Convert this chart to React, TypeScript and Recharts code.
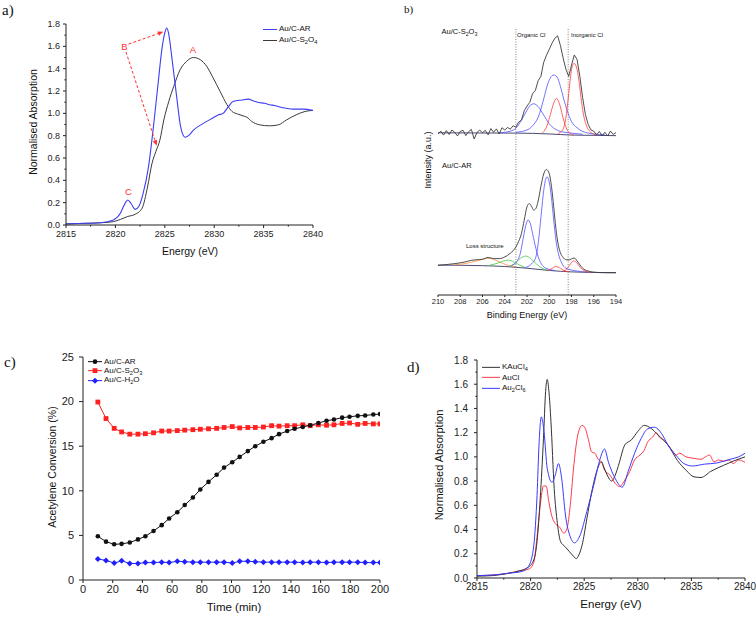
import React from "react";
import { LineChart, Line, XAxis, YAxis, ReferenceLine, Legend } from "recharts";

type Pt = [number, number];

// ---------- a) XANES, Au/C samples  [energy eV, normalised absorption]
const aAuCAR: Pt[] = [
  [2815, 0.01], [2817, 0.015], [2818.5, 0.02], [2819.8, 0.045], [2820.5, 0.105], [2820.9, 0.18],
  [2821.26, 0.224], [2821.6, 0.19], [2822.0, 0.14], [2822.4, 0.17], [2822.8, 0.28], [2823.35, 0.52],
  [2823.85, 0.88], [2824.36, 1.3], [2824.7, 1.57], [2825.0, 1.72], [2825.2, 1.764], [2825.4, 1.71],
  [2825.7, 1.51], [2826.2, 1.15], [2826.6, 0.88], [2827.05, 0.786], [2827.4, 0.8], [2827.9, 0.85],
  [2828.9, 0.91], [2829.9, 0.96], [2830.4, 0.985], [2830.9, 1.0], [2831.4, 1.055], [2831.9, 1.106],
  [2832.8, 1.12], [2833.45, 1.127], [2834.0, 1.11], [2834.5, 1.097], [2835.1, 1.09], [2835.6, 1.077],
  [2836.1, 1.07], [2836.65, 1.056], [2837.3, 1.045], [2838.0, 1.038], [2839.0, 1.038], [2840, 1.026],
];
const aAuCS2O4: Pt[] = [
  [2815, 0.01], [2817, 0.015], [2818.5, 0.02], [2819.8, 0.03], [2820.5, 0.05], [2821.2, 0.075],
  [2822.0, 0.096], [2822.7, 0.15], [2823.25, 0.34], [2823.7, 0.55], [2824.1, 0.66], [2824.5, 0.76],
  [2824.9, 0.94], [2825.4, 1.106], [2825.9, 1.24], [2826.55, 1.39], [2827.2, 1.465], [2827.9, 1.5],
  [2828.6, 1.48], [2829.25, 1.42], [2829.9, 1.316], [2830.6, 1.196], [2831.3, 1.077], [2831.8, 1.017],
  [2832.4, 0.993], [2833.0, 0.975], [2833.3, 0.966], [2833.8, 0.927], [2834.6, 0.897], [2835.6, 0.888],
  [2836.5, 0.897], [2837.3, 0.94], [2838.3, 0.987], [2839.2, 1.017], [2840, 1.026],
];
const aArrows: { from: Pt; to: Pt }[] = [
  { from: [2821.33, 1.62], to: [2824.85, 1.73] },
  { from: [2821.07, 1.55], to: [2824.18, 0.71] },
];
const aXTicks = [2815, 2817.5, 2820, 2822.5, 2825, 2827.5, 2830, 2832.5, 2835, 2837.5, 2840];
const aXMajor = [2815, 2820, 2825, 2830, 2835, 2840];
const aYTicks = [0, 0.1, 0.2, 0.3, 0.4, 0.5, 0.6, 0.7, 0.8, 0.9, 1.0, 1.1, 1.2, 1.3, 1.4, 1.5, 1.6, 1.7, 1.8];
const aYMajor = [0, 0.2, 0.4, 0.6, 0.8, 1.0, 1.2, 1.4, 1.6, 1.8];

// ---------- b) Cl 2p XPS  [binding energy eV, intensity a.u.]
const bTopEnvelope: Pt[] = [
  [210, 59.6], [209.75, 60.6], [209.5, 59.2], [209.25, 60.8], [209, 59.4], [208.75, 61.0], [208.5, 60.2],
  [208.25, 58.9], [208, 60.5], [207.75, 60.9], [207.5, 59.0], [207.25, 60.4], [207, 61.2], [206.75, 57.8],
  [206.5, 60.1], [206.25, 61.0], [206, 60.0], [205.75, 60.9], [205.5, 59.3], [205.25, 61.5], [205, 60.2],
  [204.75, 61.4], [204.5, 59.6], [204.25, 61.8], [204, 61.0], [203.75, 61.9], [203.5, 61.3], [203.25, 62.5],
  [203, 62.0], [202.75, 63.8], [202.5, 64.5], [202.25, 67.8], [202, 69.5], [201.75, 70.8], [201.5, 73.9],
  [201.25, 75.0], [201, 78.5], [200.75, 80.0], [200.5, 85.0], [200.25, 87.5], [200, 89.6], [199.75, 91.8],
  [199.5, 93.5], [199.25, 94.4], [199, 91.0], [198.75, 86.5], [198.5, 82.5], [198.25, 80.0], [198, 84.0],
  [197.75, 87.6], [197.5, 86.0], [197.25, 80.0], [197, 72.5], [196.75, 66.5], [196.5, 63.0], [196.25, 61.0],
  [196, 60.6], [195.75, 59.3], [195.5, 60.5], [195.25, 59.0], [195, 60.2], [194.75, 58.9], [194.5, 60.6],
  [194.25, 59.4], [194, 60.1],
];
const bTopBackground: Pt[] = [[210, 60.0], [203, 59.9], [200, 59.6], [198, 59.2], [196, 59.1], [194, 59.0]];
const bTopOrganic1: Pt[] = [
  [204.5, 60.0], [203.5, 60.6], [203, 61.6], [202.5, 64.5], [202, 68.0], [201.7, 69.8], [201.4, 70.3],
  [201, 69.3], [200.5, 66.3], [200, 63.2], [199.5, 61.4], [199, 60.5], [198, 59.9], [197, 59.5],
];
const bTopOrganic2: Pt[] = [
  [203, 60.2], [202, 61.0], [201.5, 62.5], [201, 65.5], [200.5, 72.0], [200.2, 76.5], [199.9, 79.5],
  [199.6, 80.5], [199.3, 79.8], [199, 76.5], [198.7, 72.0], [198.4, 68.0], [198, 64.0], [197.5, 61.8],
  [197, 60.5], [196, 59.6], [195, 59.3],
];
const bTopInorg1: Pt[] = [
  [200.6, 60.0], [200.2, 62.5], [199.9, 66.5], [199.6, 70.5], [199.35, 72.2], [199.1, 70.5], [198.8, 66.0],
  [198.5, 62.0], [198.2, 60.0], [197.8, 59.3],
];
const bTopInorg2: Pt[] = [
  [199.2, 59.8], [198.8, 61.0], [198.5, 65.5], [198.3, 72.0], [198.1, 79.5], [197.9, 84.0], [197.75, 84.6],
  [197.5, 82.5], [197.3, 77.5], [197.1, 71.0], [196.9, 66.0], [196.6, 62.0], [196.2, 60.0], [195.8, 59.3],
];
const bBotEnvelope: Pt[] = [
  [210, 13.0], [209, 13.4], [208, 13.9], [207.5, 14.3], [207, 14.8], [206.5, 15.0], [206, 15.2], [205.5, 15.8],
  [205, 15.4], [204.5, 15.4], [204, 16.0], [203.5, 17.3], [203, 19.5], [202.75, 21.5], [202.5, 24.3],
  [202.25, 29.0], [202, 33.8], [201.8, 34.9], [201.6, 34.0], [201.4, 32.6], [201.2, 33.2], [201, 35.8],
  [200.75, 41.0], [200.5, 45.4], [200.25, 47.0], [200, 45.5], [199.8, 41.0], [199.6, 33.8], [199.4, 26.0],
  [199.2, 20.5], [199, 17.5], [198.75, 15.8], [198.5, 15.0], [198.25, 14.9], [198, 15.3], [197.75, 15.6],
  [197.5, 14.6], [197.25, 13.2], [197, 12.0], [196.5, 11.0], [196, 10.6], [195, 10.4], [194, 10.4],
];
const bBotBackground: Pt[] = [[210, 13.1], [206, 12.9], [204, 12.6], [202, 12.0], [200, 11.2], [198, 10.7], [196, 10.5], [194, 10.4]];
const bBotOrganic1: Pt[] = [
  [203.4, 13.0], [203, 14.0], [202.6, 17.3], [202.3, 23.5], [202.05, 28.0], [201.9, 29.1], [201.7, 27.8],
  [201.5, 24.3], [201.2, 19.0], [201, 16.1], [200.7, 13.5], [200.3, 12.0], [199.5, 11.2],
];
const bBotOrganic2: Pt[] = [
  [202.2, 12.2], [201.6, 13.5], [201.2, 16.0], [200.9, 24.0], [200.7, 32.0], [200.5, 39.5], [200.3, 43.8],
  [200.2, 44.4], [200, 42.5], [199.8, 37.0], [199.6, 29.1], [199.4, 22.0], [199.2, 17.5], [198.9, 14.0],
  [198.5, 12.0], [197.5, 11.0], [196.5, 10.6],
];
const bBotGreen1: Pt[] = [[203.6, 12.6], [203.1, 13.6], [202.6, 15.5], [202.1, 16.3], [201.6, 15.2], [201.1, 13.3], [200.6, 11.9], [200, 11.2]];
const bBotGreen2: Pt[] = [[205.5, 12.9], [204.8, 13.6], [204.2, 14.4], [203.7, 14.9], [203.2, 14.3], [202.7, 13.2], [202.2, 12.3]];
const bBotLoss: Pt[] = [[208.5, 13.2], [207.5, 13.7], [206.5, 14.6], [205.8, 15.3], [205.35, 15.5], [204.9, 15.0], [204.3, 13.9], [203.7, 13.0], [203, 12.5]];
const bBotInorg1: Pt[] = [[200.2, 11.0], [199.8, 11.8], [199.4, 12.6], [199, 12.0], [198.6, 11.0], [198.2, 10.7]];
const bBotInorg2: Pt[] = [[198.8, 10.8], [198.4, 11.8], [198.1, 13.5], [197.8, 14.6], [197.5, 13.8], [197.2, 12.2], [196.8, 11.0], [196.3, 10.5]];
const bDivides = [203.0, 198.3];
const bXTicks = [194, 196, 198, 200, 202, 204, 206, 208, 210];

// ---------- c) acetylene conversion vs time
const cTime = [10, 15.5, 21, 26, 31.5, 37, 42, 47.5, 53, 58, 63.5, 68.5, 74, 79, 84.5, 90, 95, 100.5, 105.5, 111,
  116, 121.5, 127, 132, 137.5, 142.5, 148, 153, 158.5, 164, 169, 174.5, 179.5, 185, 190, 195.5, 200];
const cAuCAR = [4.9, 4.3, 4.0, 4.05, 4.2, 4.55, 4.9, 5.5, 6.15, 6.9, 7.6, 8.4, 9.25, 10.15, 11.0, 11.8, 12.6, 13.2,
  13.8, 14.45, 15.0, 15.5, 15.9, 16.35, 16.7, 16.95, 17.15, 17.35, 17.6, 17.85, 18.0, 18.2, 18.3, 18.4, 18.45, 18.55, 18.6];
const cAuCS2O3 = [19.95, 18.1, 17.0, 16.6, 16.35, 16.35, 16.4, 16.5, 16.7, 16.7, 16.75, 16.8, 16.85, 16.9, 16.95, 17.0,
  17.1, 17.2, 17.05, 17.1, 17.1, 17.15, 17.3, 17.25, 17.3, 17.3, 17.4, 17.3, 17.4, 17.35, 17.4, 17.55, 17.6, 17.45, 17.55, 17.5, 17.5];
const cAuCH2O = [2.35, 2.2, 1.9, 2.15, 1.85, 1.85, 1.95, 1.95, 2.0, 1.95, 2.1, 2.05, 2.0, 2.0, 2.0, 2.0, 2.0, 1.9, 2.1,
  2.1, 2.05, 2.0, 2.0, 2.0, 2.0, 2.0, 1.95, 2.0, 2.0, 1.95, 2.0, 2.0, 2.0, 2.0, 1.95, 1.95, 1.95];
const cXTicks = [0, 20, 40, 60, 80, 100, 120, 140, 160, 180, 200];
const cYTicks = [0, 5, 10, 15, 20, 25];

// ---------- d) XANES references
const dKAuCl4: Pt[] = [
  [2815, 0.015], [2816.5, 0.02], [2818, 0.04], [2819, 0.06], [2819.6, 0.08], [2820.2, 0.13], [2820.6, 0.3],
  [2820.9, 0.66], [2821.2, 1.15], [2821.4, 1.54], [2821.55, 1.64], [2821.7, 1.55], [2821.9, 1.29], [2822.2, 0.74],
  [2822.5, 0.45], [2822.8, 0.3], [2823.2, 0.26], [2823.6, 0.22], [2824.0, 0.18], [2824.25, 0.16], [2824.5, 0.19],
  [2824.8, 0.27], [2825.25, 0.49], [2825.7, 0.71], [2826.2, 0.89], [2826.6, 0.96], [2826.9, 0.9], [2827.2, 0.84],
  [2827.55, 0.8], [2827.9, 0.85], [2828.2, 0.93], [2828.8, 1.1], [2829.4, 1.14], [2830.0, 1.21], [2830.6, 1.26],
  [2831.25, 1.235], [2831.9, 1.18], [2832.8, 1.1], [2833.7, 0.97], [2834.5, 0.89], [2835.25, 0.835], [2835.9, 0.83],
  [2836.8, 0.88], [2838.0, 0.93], [2838.9, 0.965], [2840, 1.0],
];
const dAuCl: Pt[] = [
  [2815, 0.02], [2816.5, 0.025], [2818, 0.04], [2819, 0.06], [2819.86, 0.075], [2820.3, 0.13], [2820.6, 0.34],
  [2820.9, 0.6], [2821.2, 0.76], [2821.45, 0.76], [2821.7, 0.63], [2822.0, 0.505], [2822.3, 0.45], [2822.7, 0.42],
  [2823.1, 0.37], [2823.4, 0.41], [2823.7, 0.6], [2824.0, 0.9], [2824.4, 1.18], [2824.8, 1.26], [2825.1, 1.235],
  [2825.4, 1.14], [2825.7, 1.04], [2826.0, 1.03], [2826.3, 0.98], [2826.6, 0.96], [2826.9, 0.89], [2827.4, 0.85],
  [2827.9, 0.78], [2828.3, 0.755], [2828.8, 0.81], [2829.25, 0.88], [2829.7, 0.975], [2830.2, 1.015], [2830.6, 1.055],
  [2830.9, 1.12], [2831.4, 1.165], [2831.7, 1.2], [2832.0, 1.165], [2832.5, 1.13], [2833.1, 1.065], [2833.55, 1.015],
  [2833.9, 1.03], [2834.5, 1.0], [2835.1, 0.99], [2835.9, 0.98], [2836.3, 1.0], [2836.7, 1.015], [2837.1, 0.96],
  [2837.55, 0.975], [2838.0, 0.965], [2838.5, 0.975], [2838.9, 0.945], [2839.4, 0.975], [2840, 0.955],
];
const dAu2Cl6: Pt[] = [
  [2815, 0.02], [2816.5, 0.025], [2818, 0.04], [2819.25, 0.055], [2819.86, 0.105], [2820.3, 0.27], [2820.6, 0.68],
  [2820.8, 1.13], [2821.0, 1.33], [2821.25, 1.21], [2821.55, 0.905], [2822.0, 0.79], [2822.3, 0.85], [2822.6, 0.945],
  [2822.9, 0.82], [2823.25, 0.52], [2823.7, 0.34], [2824.1, 0.29], [2824.6, 0.35], [2825.25, 0.55], [2825.9, 0.77],
  [2826.5, 0.99], [2826.9, 1.065], [2827.25, 0.96], [2827.9, 0.82], [2828.55, 0.75], [2829.1, 0.88], [2829.7, 1.03],
  [2830.3, 1.15], [2830.9, 1.23], [2831.55, 1.245], [2832.2, 1.195], [2832.8, 1.1], [2833.55, 1.015], [2834.3, 0.945],
  [2835.1, 0.925], [2836.2, 0.94], [2837.4, 0.95], [2838.6, 0.98], [2839.4, 1.0], [2840, 1.03],
];

const SANS = "'Liberation Sans', Arial, sans-serif";
const SERIF = "'Liberation Serif', 'Times New Roman', serif";
const AXIS = "#222";
const RED = "#ff3030";

const pts = (arr: Pt[]) => arr.map(([x, y]) => ({ x, y }));

// Origin-style ticks: labels on majors, shorter marks on minors
type TickOpts = { side: "bottom" | "left"; size: number; margin: number; majors: number[]; fmt: (v: number) => string; fontSize: number };
function makeTick(o: TickOpts) {
  return (p: any) => {
    const v = p.payload.value;
    const major = o.majors.some((m) => Math.abs(m - v) < 1e-6);
    const len = major ? o.size : o.size * 0.55;
    if (o.side === "bottom") {
      const y0 = p.y - o.size - o.margin;
      return (
        <g>
          <line x1={p.x} x2={p.x} y1={y0} y2={y0 + len} stroke={AXIS} strokeWidth={1} />
          {major && (
            <text x={p.x} y={p.y} dy="0.72em" textAnchor="middle" fontSize={o.fontSize} fontFamily={SANS} fill={AXIS}>
              {o.fmt(v)}
            </text>
          )}
        </g>
      );
    }
    const x0 = p.x + o.size + o.margin;
    return (
      <g>
        <line x1={x0} x2={x0 - len} y1={p.y} y2={p.y} stroke={AXIS} strokeWidth={1} />
        {major && (
          <text x={p.x} y={p.y} dy="0.35em" textAnchor="end" fontSize={o.fontSize} fontFamily={SANS} fill={AXIS}>
            {o.fmt(v)}
          </text>
        )}
      </g>
    );
  };
}

const arrowShape = (p: any) => {
  const { x1, y1, x2, y2 } = p;
  const ang = Math.atan2(y2 - y1, x2 - x1);
  const L = 5.5;
  const W = 2.3;
  const bx = x2 - L * Math.cos(ang);
  const by = y2 - L * Math.sin(ang);
  const s = Math.sin(ang);
  const c = Math.cos(ang);
  return (
    <g>
      <line x1={x1} y1={y1} x2={bx} y2={by} stroke={RED} strokeWidth={1} strokeDasharray="3 2" />
      <polygon points={`${x2},${y2} ${bx - W * s},${by + W * c} ${bx + W * s},${by - W * c}`} fill={RED} />
    </g>
  );
};

const Sub = ({ children }: { children: React.ReactNode }) => (
  <span style={{ fontSize: "0.7em", verticalAlign: "-0.3em", lineHeight: 0 }}>{children}</span>
);

function Txt(props: { x: number; y: number; size: number; center?: boolean; rotate?: boolean; color?: string; font?: string; children: React.ReactNode }) {
  const { x, y, size, center, rotate, color = "#111", font = SANS, children } = props;
  return (
    <div style={{ position: "absolute", left: x, top: y, width: 0, height: 0 }}>
      <div
        style={{
          position: "absolute",
          left: 0,
          top: 0,
          transform: `translate(${center ? "-50%" : "0"}, -50%)${rotate ? " rotate(-90deg)" : ""}`,
          whiteSpace: "nowrap",
          fontSize: size,
          fontFamily: font,
          color,
          lineHeight: 1,
        }}
      >
        {children}
      </div>
    </div>
  );
}

type LegendRow = { label: React.ReactNode; color: string; marker?: "circle" | "square" | "diamond" };
function legendContent(rows: LegendRow[], rowH: number, lineW: number, fontSize: number) {
  return () => (
    <div style={{ fontFamily: SANS, fontSize, color: "#111" }}>
      {rows.map((r, i) => (
        <div key={i} style={{ height: rowH, display: "flex", alignItems: "center", whiteSpace: "nowrap" }}>
          <svg width={lineW} height={rowH} style={{ display: "block" }}>
            <line x1={0} x2={lineW} y1={rowH / 2} y2={rowH / 2} stroke={r.color} strokeWidth={1} />
            {r.marker === "circle" && <circle cx={lineW / 2} cy={rowH / 2} r={2.3} fill={r.color} />}
            {r.marker === "square" && <rect x={lineW / 2 - 2.4} y={rowH / 2 - 2.4} width={4.8} height={4.8} fill={r.color} />}
            {r.marker === "diamond" && (
              <polygon points={`${lineW / 2},${rowH / 2 - 3} ${lineW / 2 + 3},${rowH / 2} ${lineW / 2},${rowH / 2 + 3} ${lineW / 2 - 3},${rowH / 2}`} fill={r.color} />
            )}
          </svg>
          <span style={{ marginLeft: 2, lineHeight: 1 }}>{r.label}</span>
        </div>
      ))}
    </div>
  );
}

const dotCircle = (color: string) => (p: any) => <circle key={`c${p.index}`} cx={p.cx} cy={p.cy} r={2.3} fill={color} />;
const dotSquare = (color: string) => (p: any) => <rect key={`s${p.index}`} x={p.cx - 2.4} y={p.cy - 2.4} width={4.8} height={4.8} fill={color} />;
const dotDiamond = (color: string) => (p: any) => (
  <polygon key={`d${p.index}`} points={`${p.cx},${p.cy - 3} ${p.cx + 3},${p.cy} ${p.cx},${p.cy + 3} ${p.cx - 3},${p.cy}`} fill={color} />
);

function PanelA() {
  const blue = "#3d3df5";
  const black = "#3a3a3a";
  return (
    <div style={{ position: "absolute", left: 0, top: 0 }}>
      <LineChart width={330} height={260} margin={{ top: 24, right: 17, bottom: 10, left: 36 }}>
        <XAxis type="number" dataKey="x" domain={[2815, 2840]} ticks={aXTicks} interval={0} height={25} allowDataOverflow
          axisLine={{ stroke: AXIS }} tickLine={false} tickSize={3} tickMargin={3}
          tick={makeTick({ side: "bottom", size: 3, margin: 3, majors: aXMajor, fmt: (v) => String(v), fontSize: 9 })} />
        <YAxis type="number" domain={[0, 1.8]} ticks={aYTicks} interval={0} width={30} allowDataOverflow
          axisLine={{ stroke: AXIS }} tickLine={false} tickSize={3} tickMargin={3}
          tick={makeTick({ side: "left", size: 3, margin: 3, majors: aYMajor, fmt: (v) => v.toFixed(1), fontSize: 9 })} />
        <Line data={pts(aAuCS2O4)} dataKey="y" type="monotone" stroke={black} strokeWidth={1} dot={false} activeDot={false} isAnimationActive={false} />
        <Line data={pts(aAuCAR)} dataKey="y" type="monotone" stroke={blue} strokeWidth={1.1} dot={false} activeDot={false} isAnimationActive={false} />
        {aArrows.map((a, i) => (
          <ReferenceLine key={i} segment={[{ x: a.from[0], y: a.from[1] }, { x: a.to[0], y: a.to[1] }]} shape={arrowShape} ifOverflow="visible" />
        ))}
        <Legend layout="vertical" align="center" verticalAlign="middle" wrapperStyle={{ left: 263, top: 23.5, width: "auto" }}
          content={legendContent([
            { label: "Au/C-AR", color: blue },
            { label: <>Au/C-S<Sub>2</Sub>O<Sub>4</Sub></>, color: black },
          ], 11, 14, 8)} />
      </LineChart>
    </div>
  );
}

function PanelB() {
  const blue = "#4f4fff";
  const red = "#ff3b3b";
  const green = "#3cc83c";
  const orange = "#ff8a3d";
  const base = "#1c1c50";
  const env = "#3a3a3a";
  const comp = (data: Pt[], color: string, w = 0.8) => (
    <Line data={pts(data)} dataKey="y" type="monotone" stroke={color} strokeWidth={w} dot={false} activeDot={false} isAnimationActive={false} />
  );
  return (
    <div style={{ position: "absolute", left: 380, top: 0 }}>
      <LineChart width={250} height={330} margin={{ top: 20, right: 14, bottom: 15, left: 58 }}>
        <XAxis type="number" dataKey="x" domain={[194, 210]} reversed ticks={bXTicks} interval={0} height={20} allowDataOverflow
          axisLine={{ stroke: AXIS }} tickLine={false} tickSize={2} tickMargin={1.5}
          tick={makeTick({ side: "bottom", size: 2, margin: 1.5, majors: bXTicks, fmt: (v) => String(v), fontSize: 7.5 })} />
        <YAxis type="number" domain={[2.5, 100]} width={0} tick={false} tickLine={false} axisLine={{ stroke: "#8a8a8a", strokeWidth: 2 }} allowDataOverflow />
        {bDivides.map((x) => (
          <ReferenceLine key={x} segment={[{ x, y: 2.5 }, { x, y: 97 }]} stroke="#666" strokeWidth={0.8} strokeDasharray="1 1.5" />
        ))}
        {comp(bTopBackground, base)}
        {comp(bTopOrganic1, blue)}
        {comp(bTopOrganic2, blue)}
        {comp(bTopInorg1, red)}
        {comp(bTopInorg2, red)}
        <Line data={pts(bTopEnvelope)} dataKey="y" type="linear" stroke={env} strokeWidth={0.9} dot={false} activeDot={false} isAnimationActive={false} />
        {comp(bBotBackground, base)}
        {comp(bBotLoss, orange)}
        {comp(bBotGreen2, green)}
        {comp(bBotGreen1, green)}
        {comp(bBotOrganic1, blue)}
        {comp(bBotOrganic2, blue)}
        {comp(bBotInorg1, red)}
        {comp(bBotInorg2, red)}
        <Line data={pts(bBotEnvelope)} dataKey="y" type="monotone" stroke={env} strokeWidth={0.9} dot={false} activeDot={false} isAnimationActive={false} />
      </LineChart>
    </div>
  );
}

function PanelC() {
  const black = "#111";
  const red = "#ff2020";
  const blue = "#2020ff";
  const rows = cTime.map((t, i) => ({ t, ar: cAuCAR[i], s2o3: cAuCS2O3[i], h2o: cAuCH2O[i] }));
  return (
    <div style={{ position: "absolute", left: 0, top: 330 }}>
      <LineChart width={400} height={287} data={rows} margin={{ top: 27, right: 20, bottom: 12, left: 58 }}>
        <XAxis type="number" dataKey="t" domain={[0, 200]} ticks={cXTicks} interval={0} height={25} allowDataOverflow
          axisLine={{ stroke: AXIS }} tickLine={false} tickSize={3} tickMargin={2}
          tick={makeTick({ side: "bottom", size: 3, margin: 2, majors: cXTicks, fmt: (v) => String(v), fontSize: 11 })} />
        <YAxis type="number" domain={[0, 25]} ticks={cYTicks} interval={0} width={25} allowDataOverflow
          axisLine={{ stroke: AXIS }} tickLine={false} tickSize={4} tickMargin={5}
          tick={makeTick({ side: "left", size: 4, margin: 5, majors: cYTicks, fmt: (v) => String(v), fontSize: 11 })} />
        <Line dataKey="s2o3" type="linear" stroke={red} strokeWidth={1} dot={dotSquare(red)} activeDot={false} isAnimationActive={false} />
        <Line dataKey="ar" type="linear" stroke={black} strokeWidth={1} dot={dotCircle(black)} activeDot={false} isAnimationActive={false} />
        <Line dataKey="h2o" type="linear" stroke={blue} strokeWidth={1} dot={dotDiamond(blue)} activeDot={false} isAnimationActive={false} />
        <Legend layout="vertical" align="center" verticalAlign="middle" wrapperStyle={{ left: 88, top: 27, width: "auto" }}
          content={legendContent([
            { label: "Au/C-AR", color: black, marker: "circle" },
            { label: <>Au/C-S<Sub>2</Sub>O<Sub>3</Sub></>, color: red, marker: "square" },
            { label: <>Au/C-H<Sub>2</Sub>O</>, color: blue, marker: "diamond" },
          ], 9.3, 14, 8)} />
      </LineChart>
    </div>
  );
}

function PanelD() {
  const black = "#333";
  const red = "#ff3a4a";
  const blue = "#3a3aff";
  return (
    <div style={{ position: "absolute", left: 400, top: 330 }}>
      <LineChart width={356} height={287} margin={{ top: 30, right: 11, bottom: 14, left: 52 }}>
        <XAxis type="number" dataKey="x" domain={[2815, 2840]} ticks={aXTicks} interval={0} height={25} allowDataOverflow
          axisLine={{ stroke: AXIS }} tickLine={false} tickSize={3} tickMargin={2}
          tick={makeTick({ side: "bottom", size: 3, margin: 2, majors: aXMajor, fmt: (v) => String(v), fontSize: 10 })} />
        <YAxis type="number" domain={[0, 1.8]} ticks={aYTicks} interval={0} width={25} allowDataOverflow
          axisLine={{ stroke: AXIS }} tickLine={false} tickSize={3} tickMargin={6}
          tick={makeTick({ side: "left", size: 3, margin: 6, majors: aYMajor, fmt: (v) => v.toFixed(1), fontSize: 10 })} />
        <Line data={pts(dAuCl)} dataKey="y" type="monotone" stroke={red} strokeWidth={1} dot={false} activeDot={false} isAnimationActive={false} />
        <Line data={pts(dKAuCl4)} dataKey="y" type="monotone" stroke={black} strokeWidth={1} dot={false} activeDot={false} isAnimationActive={false} />
        <Line data={pts(dAu2Cl6)} dataKey="y" type="monotone" stroke={blue} strokeWidth={1} dot={false} activeDot={false} isAnimationActive={false} />
        <Legend layout="vertical" align="center" verticalAlign="middle" wrapperStyle={{ left: 82, top: 31.5, width: "auto" }}
          content={legendContent([
            { label: <>KAuCl<Sub>4</Sub></>, color: black },
            { label: "AuCl", color: red },
            { label: <>Au<Sub>2</Sub>Cl<Sub>6</Sub></>, color: blue },
          ], 10.7, 18, 8)} />
      </LineChart>
    </div>
  );
}

export default function App() {
  return (
    <div style={{ position: "absolute", left: 0, top: 0, width: 756, height: 617, background: "#fff", overflow: "hidden" }}>
      <PanelA />
      <PanelB />
      <PanelC />
      <PanelD />

      {/* a) */}
      <Txt x={2} y={10} size={15} font={SERIF}>a)</Txt>
      <Txt x={190} y={251} size={10.5} center>Energy (eV)</Txt>
      <Txt x={33} y={122} size={10.5} center rotate>Normalised Absorption</Txt>
      <Txt x={193} y={50} size={9.5} center color={RED}>A</Txt>
      <Txt x={124.5} y={46.5} size={9.5} center color={RED}>B</Txt>
      <Txt x={128.5} y={191.5} size={9.5} center color={RED}>C</Txt>

      {/* b) */}
      <Txt x={404} y={9} size={11} font={SERIF}>b)</Txt>
      <Txt x={441.5} y={31.5} size={7.5}>Au/C-S<Sub>2</Sub>O<Sub>3</Sub></Txt>
      <Txt x={517} y={35} size={6}>Organic Cl</Txt>
      <Txt x={571} y={35} size={6}>Inorganic Cl</Txt>
      <Txt x={442} y={166} size={7.5}>Au/C-AR</Txt>
      <Txt x={466} y={246} size={6}>Loss structure</Txt>
      <Txt x={527} y={315} size={9} center>Binding Energy (eV)</Txt>
      <Txt x={428} y={160} size={9} center rotate>Intensity (a.u.)</Txt>

      {/* c) */}
      <Txt x={4} y={362} size={15} font={SERIF}>c)</Txt>
      <Txt x={234} y={608} size={11.5} center>Time (min)</Txt>
      <Txt x={52} y={467} size={10.5} center rotate>Acetylene Conversion (%)</Txt>

      {/* d) */}
      <Txt x={407} y={367} size={15} font={SERIF}>d)</Txt>
      <Txt x={611} y={605} size={11.5} center>Energy (eV)</Txt>
      <Txt x={439} y={465} size={11} center rotate>Normalised Absorption</Txt>
    </div>
  );
}
